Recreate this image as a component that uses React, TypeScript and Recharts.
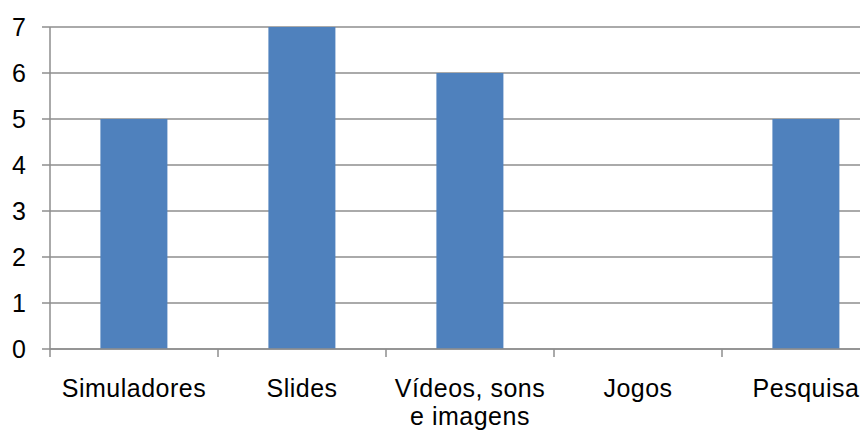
import React from 'react';
import { BarChart, Bar, XAxis, YAxis, CartesianGrid } from 'recharts';

const categories = ['Simuladores', 'Slides', 'Vídeos, sons e imagens', 'Jogos', 'Pesquisa'];
const values = [5, 7, 6, 0, 5];
const yTicks = [0, 1, 2, 3, 4, 5, 6, 7];

const data = categories.map((name, i) => ({ name, value: values[i] }));

const FONT = '"Liberation Sans", Arial, sans-serif';
const GRID = '#8e8e8e';

// split long labels into lines, like the original wraps "Vídeos, sons / e imagens"
function wrap(text: string, max: number) {
  const words = text.split(' ');
  const lines: string[] = [];
  let cur = '';
  for (const w of words) {
    const next = cur ? cur + ' ' + w : w;
    if (next.length > max && cur) {
      lines.push(cur);
      cur = w;
    } else {
      cur = next;
    }
  }
  if (cur) lines.push(cur);
  return lines;
}

function CategoryTick(props: any) {
  const { x, y, payload } = props;
  const half = payload && payload.offset ? payload.offset : 84;
  const lines = wrap(String(payload.value), 12);
  return (
    <g>
      {/* category boundary tick mark */}
      <line x1={x - half} x2={x - half} y1={y} y2={y + 8} stroke={GRID} strokeWidth={1.5} />
      <text x={x} y={y + 48} textAnchor="middle" fill="#000" fontSize={25} letterSpacing={0.5} fontFamily={FONT}>
        {lines.map((l, i) => (
          <tspan key={i} x={x} dy={i === 0 ? 0 : 28}>
            {l}
          </tspan>
        ))}
      </text>
    </g>
  );
}

export default function App() {
  return (
    <div style={{ position: 'absolute', left: 0, top: 0, width: 860, height: 430, overflow: 'hidden', background: '#fff' }}>
      <BarChart
        width={890}
        height={430}
        data={data}
        barCategoryGap="30%"
        margin={{ top: 27, right: 0, bottom: 0, left: 0 }}
      >
        <CartesianGrid vertical={false} stroke={GRID} strokeWidth={1.5} />
        <XAxis
          dataKey="name"
          interval={0}
          height={81}
          tickLine={false}
          tickSize={0}
          tickMargin={0}
          axisLine={{ stroke: GRID, strokeWidth: 1.5 }}
          tick={<CategoryTick />}
        />
        <YAxis
          domain={[0, 7]}
          ticks={yTicks}
          width={50}
          tickSize={8}
          tickMargin={16}
          axisLine={{ stroke: GRID, strokeWidth: 1.5 }}
          tickLine={{ stroke: GRID, strokeWidth: 1.5 }}
          tick={{ fill: '#000', fontSize: 25, fontFamily: FONT }}
        />
        <Bar dataKey="value" fill="#4F81BD" isAnimationActive={false} />
      </BarChart>
    </div>
  );
}
